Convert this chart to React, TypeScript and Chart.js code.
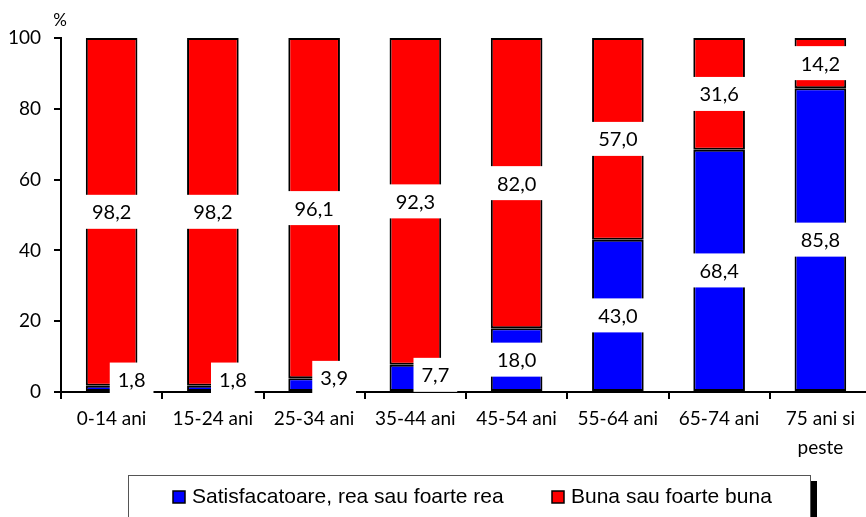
import React, { useEffect, useRef } from "react";
import { Chart, registerables } from "chart.js";

Chart.register(...registerables);

const categories: (string | string[])[] = [
  "0-14 ani",
  "15-24 ani",
  "25-34 ani",
  "35-44 ani",
  "45-54 ani",
  "55-64 ani",
  "65-74 ani",
  ["75 ani si", "peste"],
];
const poorValues = [1.8, 1.8, 3.9, 7.7, 18.0, 43.0, 68.4, 85.8];
const goodValues = [98.2, 98.2, 96.1, 92.3, 82.0, 57.0, 31.6, 14.2];
const yTicks = [0, 20, 40, 60, 80, 100];
const seriesNames = ["Satisfacatoare, rea sau foarte rea", "Buna sau foarte buna"];
const seriesColors = ["#0000FF", "#FF0000"];
const unitLabel = "%";

const fmt = (v: number) => v.toFixed(1).replace(".", ",");

const overlayPlugin = {
  id: "overlay",
  afterDraw(chart: any) {
    const ctx = chart.ctx as CanvasRenderingContext2D;
    ctx.save();
    // value labels with white boxes
    ctx.font = "20px Lato";
    ctx.textAlign = "center";
    ctx.textBaseline = "middle";
    chart.data.datasets.forEach((ds: any, di: number) => {
      const meta = chart.getDatasetMeta(di);
      meta.data.forEach((bar: any, i: number) => {
        const v = ds.data[i] as number;
        const txt = fmt(v);
        const w = ctx.measureText(txt).width + 16;
        const h = 34;
        let cx = bar.x;
        let cy = (bar.y + bar.base) / 2;
        if (di === 0 && v < 10) {
          cx = bar.x + 20;
          cy = bar.base - 10 - 0.8 * v;
        }
        ctx.fillStyle = "#FFFFFF";
        ctx.fillRect(cx - w / 2, cy - h / 2, w, h);
        ctx.fillStyle = "#000000";
        ctx.fillText(txt, cx, cy + 1);
      });
    });

    // unit label
    ctx.font = "17px Lato";
    ctx.fillStyle = "#000";
    ctx.fillText(unitLabel, 60, 21);

    // legend
    const lx = 128.5, ly = 475.5, lw = 682, lh = 48;
    ctx.fillStyle = "#000";
    ctx.fillRect(811, 481, 6, 60);
    ctx.fillStyle = "#fff";
    ctx.fillRect(lx, ly, lw, lh);
    ctx.strokeStyle = "#555";
    ctx.lineWidth = 1;
    ctx.strokeRect(lx, ly, lw, lh);
    const itemX = [173, 552];
    ctx.font = "21px 'Liberation Sans'";
    ctx.textAlign = "left";
    seriesNames.forEach((name, k) => {
      const x = itemX[k];
      ctx.fillStyle = seriesColors[k];
      ctx.fillRect(x, 491, 12, 12);
      ctx.strokeStyle = "#000";
      ctx.lineWidth = 1.5;
      ctx.strokeRect(x, 491, 12, 12);
      ctx.fillStyle = "#000";
      ctx.fillText(name, x + 19, 497);
    });
    ctx.restore();
  },
};

export default function App() {
  const ref = useRef<HTMLCanvasElement | null>(null);
  useEffect(() => {
    document.body.style.margin = "0";
    document.body.style.overflow = "hidden";
    if (!ref.current) return;
    const chart = new Chart(ref.current, {
      type: "bar",
      data: {
        labels: categories as any,
        datasets: [
          {
            label: seriesNames[0],
            data: poorValues,
            backgroundColor: seriesColors[0],
            borderColor: "#000",
            borderWidth: 2,
            borderSkipped: false,
            categoryPercentage: 0.51,
            barPercentage: 1,
          },
          {
            label: seriesNames[1],
            data: goodValues,
            backgroundColor: seriesColors[1],
            borderColor: "#000",
            borderWidth: 2,
            borderSkipped: false,
            categoryPercentage: 0.51,
            barPercentage: 1,
          },
        ],
      },
      options: {
        responsive: false,
        maintainAspectRatio: false,
        animation: false,
        layout: { padding: { top: 38, left: 0, right: 0, bottom: 0 } },
        plugins: { legend: { display: false }, tooltip: { enabled: false } },
        scales: {
          x: {
            stacked: true,
            grid: {
              drawOnChartArea: false,
              drawTicks: true,
              tickLength: 7,
              color: "#000",
              lineWidth: 2,
              offset: true,
            },
            border: { color: "#000", width: 2 },
            ticks: {
              color: "#000",
              font: { family: "Lato", size: 19, lineHeight: 1.5 },
              padding: 6,
              maxRotation: 0,
              autoSkip: false,
            },
            afterFit: (s: any) => {
              s.height = 125;
            },
          },
          y: {
            stacked: true,
            min: 0,
            max: 100,
            grid: {
              drawOnChartArea: false,
              drawTicks: true,
              tickLength: 7,
              color: "#000",
              lineWidth: 2,
            },
            border: { color: "#000", width: 2 },
            ticks: {
              color: "#000",
              font: { family: "Lato", size: 19 },
              padding: 13,
            },
            afterBuildTicks: (s: any) => {
              s.ticks = yTicks.map((v) => ({ value: v }));
            },
            afterFit: (s: any) => {
              s.width = 61;
            },
          },
        },
      },
      plugins: [overlayPlugin],
    });
    return () => chart.destroy();
  }, []);
  return (
    <div style={{ width: 866, height: 517, overflow: "hidden", position: "relative" }}>
      <canvas ref={ref} width={871} height={517} style={{ display: "block" }} />
    </div>
  );
}
